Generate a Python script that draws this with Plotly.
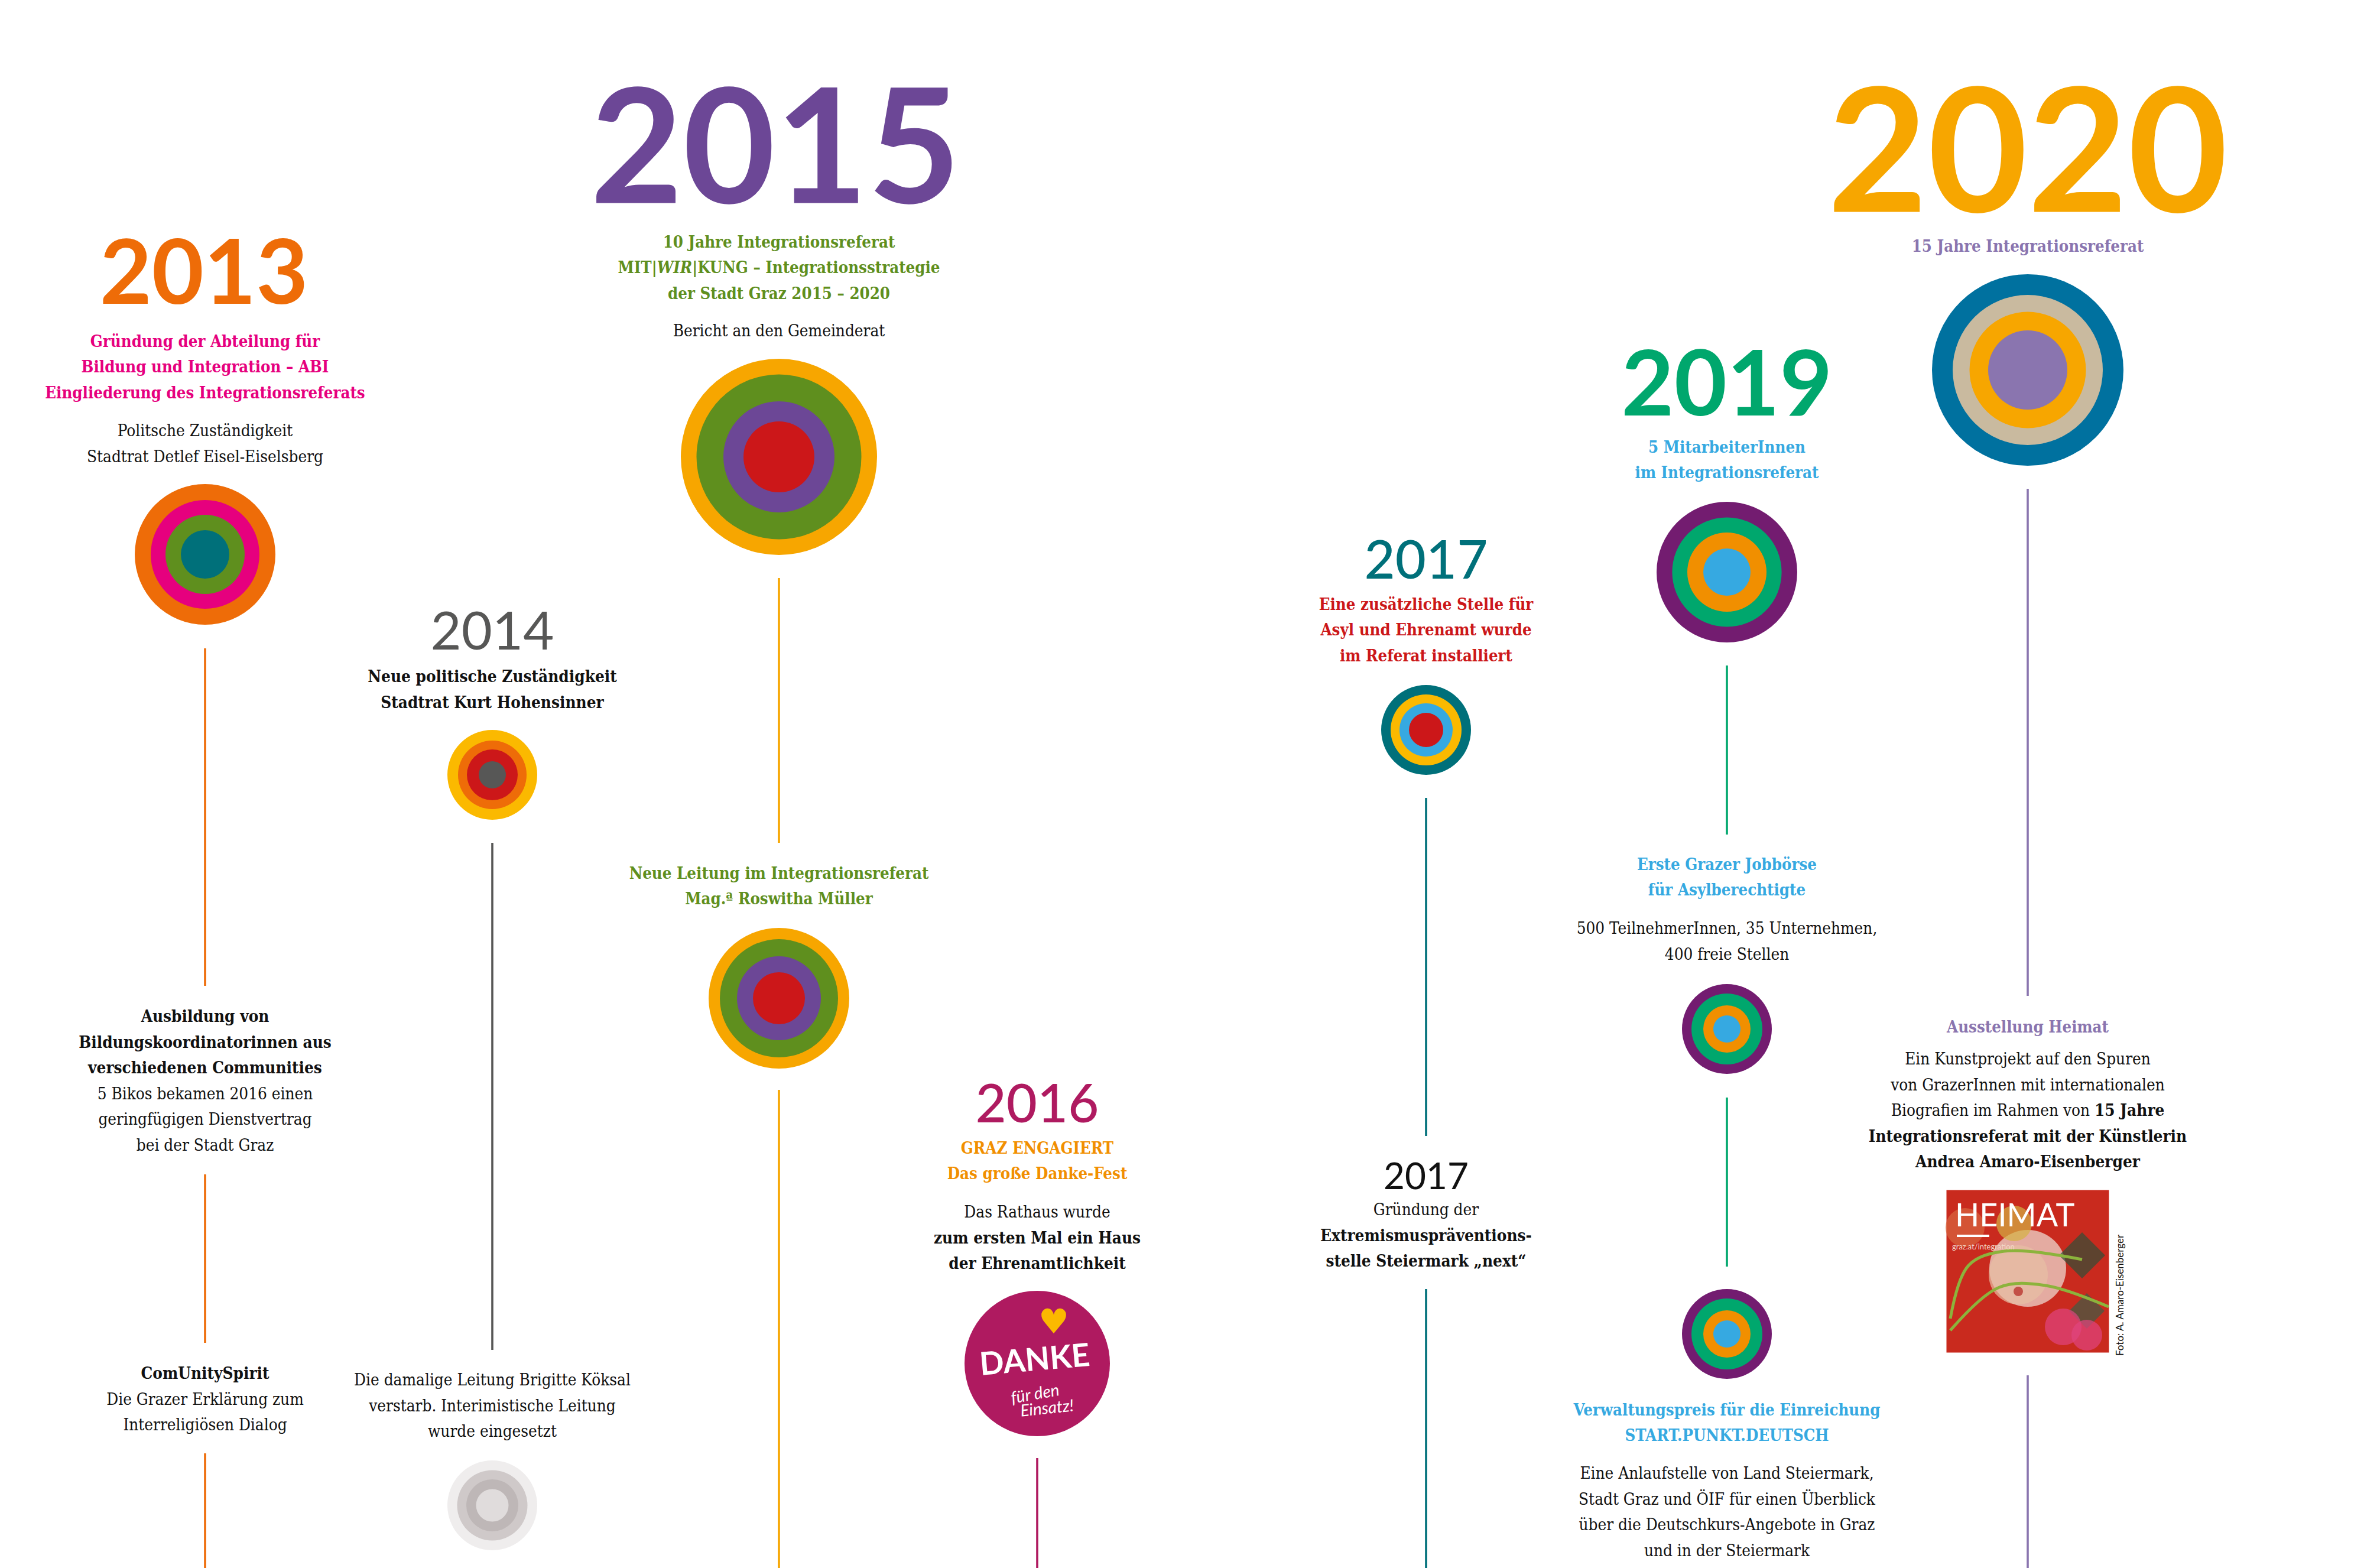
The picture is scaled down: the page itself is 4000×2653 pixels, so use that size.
import plotly.graph_objects as go

CANVAS_W = 4000
CANVAS_H = 2653
LINE_STEP = 43.6

SERIF = "DejaVu Serif Condensed"
SANS = "Lato"

ORANGE = "#EE6C08"
PINK = "#E6007E"
GREEN = "#5F8F1E"
TEAL = "#00707A"
AMBER = "#F7A600"
YELLOW = "#FBB900"
PURPLE = "#6C4796"
RED = "#CC1719"
GREY = "#575756"
BERRY = "#AF1A60"
SKY = "#36A9E1"
EMERALD = "#00A76D"
PLUM = "#731C70"
TANGERINE = "#F18F00"
PETROL = "#00719F"
BEIGE = "#C9BA9F"
LILAC = "#8A75AF"

YEARS = ["2013", "2014", "2015", "2016", "2017", "2017", "2019", "2020"]

HEAD_2013 = ["Gründung der Abteilung für", "Bildung und Integration – ABI", "Eingliederung des Integrationsreferats"]
BODY_2013 = ["Politsche Zuständigkeit", "Stadtrat Detlef Eisel-Eiselsberg"]
BIKOS = ["<b>Ausbildung von</b>", "<b>Bildungskoordinatorinnen aus</b>", "<b>verschiedenen Communities</b>",
         "5 Bikos bekamen 2016 einen", "geringfügigen Dienstvertrag", "bei der Stadt Graz"]
SPIRIT = ["<b>ComUnitySpirit</b>", "Die Grazer Erklärung zum", "Interreligiösen Dialog"]

HEAD_2014 = ["<b>Neue politische Zuständigkeit</b>", "<b>Stadtrat Kurt Hohensinner</b>"]
BODY_2014 = ["Die damalige Leitung Brigitte Köksal", "verstarb. Interimistische Leitung", "wurde eingesetzt"]

HEAD_2015 = ["10 Jahre Integrationsreferat", "MIT|<i>WIR</i>|KUNG – Integrationsstrategie", "der Stadt Graz 2015 – 2020"]
BODY_2015 = ["Bericht an den Gemeinderat"]
LEITUNG = ["Neue Leitung im Integrationsreferat", "Mag.ª Roswitha Müller"]

HEAD_2016 = ["GRAZ ENGAGIERT", "Das große Danke-Fest"]
BODY_2016 = ["Das Rathaus wurde", "<b>zum ersten Mal ein Haus</b>", "<b>der Ehrenamtlichkeit</b>"]

HEAD_2017 = ["Eine zusätzliche Stelle für", "Asyl und Ehrenamt wurde", "im Referat installiert"]
BODY_2017 = ["Gründung der", "<b>Extremismuspräventions-</b>", "<b>stelle Steiermark „next“</b>"]

HEAD_2019 = ["5 MitarbeiterInnen", "im Integrationsreferat"]
JOBS_HEAD = ["Erste Grazer Jobbörse", "für Asylberechtigte"]
JOBS_BODY = ["500 TeilnehmerInnen, 35 Unternehmen,", "400 freie Stellen"]
PREIS_HEAD = ["Verwaltungspreis für die Einreichung", "START.PUNKT.DEUTSCH"]
PREIS_BODY = ["Eine Anlaufstelle von Land Steiermark,", "Stadt Graz und ÖIF für einen Überblick",
              "über die Deutschkurs-Angebote in Graz", "und in der Steiermark"]

HEAD_2020 = ["15 Jahre Integrationsreferat"]
HEIMAT_HEAD = ["Ausstellung Heimat"]
HEIMAT_BODY = ["Ein Kunstprojekt auf den Spuren", "von GrazerInnen mit internationalen",
               "Biografien im Rahmen von <b>15 Jahre</b>", "<b>Integrationsreferat mit der Künstlerin</b>",
               "<b>Andrea Amaro-Eisenberger</b>"]


class TimelineRenderer:
    def __init__(self):
        self.current_fig = None
        self.text_size = 27.7
        self.head_size = 27.4

    def _vline(self, x, y_start, y_end, color):
        self.current_fig.add_trace(go.Scatter(
            x=[x, x], y=[y_start, y_end], mode="lines",
            line=dict(color=color, width=3.6),
            hoverinfo="skip",
        ))

    def _disc(self, x, y, radii, colors):
        """Concentric rings, outermost first."""
        self.current_fig.add_trace(go.Scatter(
            x=[x] * len(radii), y=[y] * len(radii), mode="markers",
            marker=dict(size=[r * 2 for r in radii], color=colors, line=dict(width=0), opacity=1),
            hoverinfo="skip",
        ))

    def _lines(self, x, rows, first_y, color="#111111", bold=False, size=None):
        """One text point per row, stepping down from first_y."""
        labels = [f"<b>{row}</b>" if bold else row for row in rows]
        self.current_fig.add_trace(go.Scatter(
            x=[x] * len(rows),
            y=[first_y + 3 + i * LINE_STEP for i in range(len(rows))],
            mode="text",
            text=labels,
            textposition="middle center",
            textfont=dict(family=SERIF, size=size or self.text_size, color=color),
            hoverinfo="skip",
        ))

    def _year(self, x, y, label, color, size, weight=700):
        # text boxes sit a bit high, so push the digits down onto their centre
        self.current_fig.add_trace(go.Scatter(
            x=[x], y=[y + size * 0.115], mode="text", text=[label],
            textposition="middle center",
            textfont=dict(family=SANS, size=size, color=color, weight=weight),
            hoverinfo="skip",
        ))

    def _tilted(self, x, y, label, color, size, angle, family=SANS, bold=False, italic=False):
        self.current_fig.add_annotation(
            x=x, y=y, text=label, textangle=angle, showarrow=False,
            font=dict(family=family, size=size, color=color,
                      weight=700 if bold else 400, style="italic" if italic else "normal"),
        )

    def _poster(self, x, y):
        """Exhibition cover, built from a few flat markers."""
        fig = self.current_fig
        fig.add_trace(go.Scatter(
            x=[x], y=[y], mode="markers", hoverinfo="skip",
            marker=dict(symbol="square", size=275, color="#C92A1E", line=dict(width=0)),
        ))
        fig.add_trace(go.Scatter(
            x=[x, x - 16, x - 23, x + 92, x + 100, x + 60, x + 100, x - 106, x - 16],
            y=[y - 5, y + 6, y - 81, y - 27, y + 67, y + 94, y + 108, y - 74, y + 34],
            mode="markers", hoverinfo="skip",
            marker=dict(
                symbol=["circle", "circle", "circle", "diamond", "diamond", "circle", "circle", "circle", "circle"],
                size=[130, 100, 60, 60, 46, 62, 52, 66, 16],
                color=["#EFE3D8", "#E7BFA4", "#D4B243", "#2F4F36", "#3C5C44",
                       "#E0457F", "#E0457F", "#D9663F", "#B3241F"],
                line=dict(width=0),
            ),
        ))
        fig.add_trace(go.Scatter(
            x=[x - 131, x - 100, x - 40, x + 92, None, x - 131, x - 48, x + 30, x + 137],
            y=[y + 80, y - 10, y - 34, y - 20, None, y + 100, y + 27, y + 24, y + 60],
            mode="lines", hoverinfo="skip",
            line=dict(color="#8CB33C", width=5, shape="spline"),
        ))
        fig.add_trace(go.Scatter(
            x=[x - 120, x - 65], y=[y - 60, y - 60], mode="lines", hoverinfo="skip",
            line=dict(color="#FFFFFF", width=4),
        ))
        self._tilted(x - 22, y - 97, "HEIMAT", "#FFFFFF", 54, 0, family=SANS)
        self._tilted(x - 75, y - 42, "graz.at/integration", "#F2D9C8", 13, 0, family=SANS)
        self._tilted(x + 155, y + 40, "Foto: A. Amaro-Eisenberger", "#111111", 17, -90, family=SANS)

    def render(self):
        self.current_fig = go.Figure()
        fig = self.current_fig

        col_13, col_14, col_15, col_16 = 347, 833, 1318, 1755
        col_17, col_19, col_20 = 2413, 2922, 3431

        # 2013
        self._year(col_13 - 2, 459, YEARS[0], ORANGE, 152)
        self._lines(col_13, HEAD_2013, 577, PINK, bold=True, size=self.head_size)
        self._lines(col_13, BODY_2013, 728)
        self._disc(col_13, 938, [119, 92, 67, 41], [ORANGE, PINK, GREEN, TEAL])
        self._vline(col_13, 1097, 1668, ORANGE)
        self._lines(col_13, BIKOS, 1719)
        self._vline(col_13, 1987, 2272, ORANGE)
        self._lines(col_13, SPIRIT, 2323)
        self._vline(col_13, 2459, CANVAS_H, ORANGE)

        # 2014
        self._year(col_14, 1066, YEARS[1], GREY, 90, weight=400)
        self._lines(col_14, HEAD_2014, 1144)
        self._disc(col_14, 1311, [76, 58, 43, 23], [YELLOW, ORANGE, RED, GREY])
        self._vline(col_14, 1426, 2284, GREY)
        self._lines(col_14, BODY_2014, 2334)
        self._disc(col_14, 2547, [76, 59.5, 44, 27.5], ["#EFEDED", "#CFC9C9", "#BEB7B7", "#E0DCDC"])

        # 2015
        self._year(col_15 - 6, 245, YEARS[2], PURPLE, 270)
        self._lines(col_15, HEAD_2015, 409, GREEN, bold=True, size=self.head_size)
        self._lines(col_15, BODY_2015, 559)
        self._disc(col_15, 773, [166, 139.5, 94, 60], [AMBER, GREEN, PURPLE, RED])
        self._vline(col_15, 978, 1426, AMBER)
        self._lines(col_15, LEITUNG, 1477, GREEN, bold=True, size=self.head_size)
        self._disc(col_15, 1689, [119, 100, 71, 44], [AMBER, GREEN, PURPLE, RED])
        self._vline(col_15, 1844, CANVAS_H, AMBER)

        # 2016
        self._year(col_16, 1866, YEARS[3], BERRY, 90, weight=500)
        self._lines(col_16, HEAD_2016, 1942, TANGERINE, bold=True, size=self.head_size)
        self._lines(col_16, BODY_2016, 2050)
        self._disc(col_16, 2307, [123], [BERRY])
        self._tilted(col_16 + 28, 2236, "♥", YELLOW, 58, 0, family="DejaVu Sans")
        self._tilted(col_16 - 5, 2298, "DANKE", "#FFFFFF", 54, -5, bold=True)
        self._tilted(col_16 - 4, 2357, "für den", "#FFFFFF", 28, -10, italic=True)
        self._tilted(col_16 + 16, 2381, "Einsatz!", "#FFFFFF", 28, -6, italic=True)
        self._vline(col_16, 2467, CANVAS_H, BERRY)

        # 2017
        self._year(col_17, 946, YEARS[4], TEAL, 90, weight=500)
        self._lines(col_17, HEAD_2017, 1022, RED, bold=True, size=self.head_size)
        self._disc(col_17, 1235, [76, 60, 45, 29], [TEAL, YELLOW, SKY, RED])
        self._vline(col_17, 1350, 1922, TEAL)
        self._year(col_17, 1989, YEARS[5], "#111111", 62, weight=400)
        self._lines(col_17, BODY_2017, 2046)
        self._vline(col_17, 2181, CANVAS_H, TEAL)

        # 2019
        self._year(col_19, 647, YEARS[6], EMERALD, 154)
        self._lines(col_19, HEAD_2019, 756, SKY, bold=True, size=self.head_size)
        self._disc(col_19, 968, [119, 92.6, 67, 40], [PLUM, EMERALD, TANGERINE, SKY])
        self._vline(col_19, 1126, 1412, EMERALD)
        self._lines(col_19, JOBS_HEAD, 1462, SKY, bold=True, size=self.head_size)
        self._lines(col_19, JOBS_BODY, 1570)
        self._disc(col_19, 1741, [76, 60, 40, 23], [PLUM, EMERALD, TANGERINE, SKY])
        self._vline(col_19, 1857, 2143, EMERALD)
        self._disc(col_19, 2257, [76, 60, 40, 23], [PLUM, EMERALD, TANGERINE, SKY])
        self._lines(col_19, PREIS_HEAD, 2385, SKY, bold=True, size=self.head_size)
        self._lines(col_19, PREIS_BODY, 2492)

        # 2020
        self._year(col_20, 252, YEARS[7], AMBER, 292)
        self._lines(col_20, HEAD_2020, 416, LILAC, bold=True, size=self.head_size)
        self._disc(col_20, 626, [162, 127, 98.5, 67], [PETROL, BEIGE, AMBER, LILAC])
        self._vline(col_20, 827, 1685, LILAC)
        self._lines(col_20, HEIMAT_HEAD, 1737, LILAC, bold=True, size=self.head_size)
        self._lines(col_20, HEIMAT_BODY, 1791)
        self._poster(col_20, 2151)
        self._vline(col_20, 2327, CANVAS_H, LILAC)

        fig.update_xaxes(range=[0, CANVAS_W], visible=False)
        fig.update_yaxes(range=[CANVAS_H, 0], visible=False)
        fig.update_layout(
            width=CANVAS_W,
            height=CANVAS_H,
            margin=dict(l=0, r=0, t=0, b=0),
            showlegend=False,
            plot_bgcolor="#FFFFFF",
            paper_bgcolor="#FFFFFF",
        )
        return fig


fig = TimelineRenderer().render()
fig.write_html("out.html", config={"displayModeBar": False}, post_script="document.body.style.margin = '0';")
